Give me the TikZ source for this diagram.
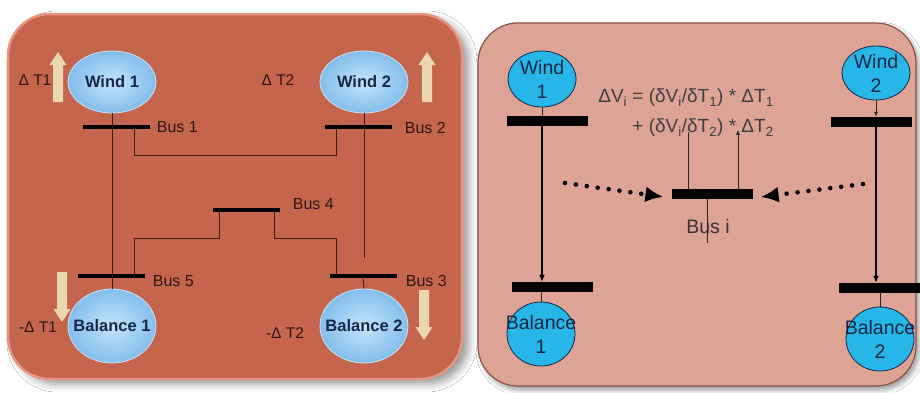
\documentclass[tikz,border=0pt]{standalone}
\usepackage{fontspec}
\setmainfont{Liberation Sans}
\usepackage{tikz}
\usetikzlibrary{arrows.meta,positioning,calc,shapes.geometric,shadows.blur}
\definecolor{panelred}{RGB}{198,101,77}
\definecolor{panelrim}{RGB}{228,150,126}
\definecolor{panelpink}{RGB}{221,164,149}
\definecolor{pinkrim}{RGB}{140,82,66}
\definecolor{skyin}{RGB}{196,228,250}
\definecolor{skyout}{RGB}{132,190,236}
\definecolor{cyanfill}{RGB}{38,182,232}
\definecolor{navy}{RGB}{22,38,70}
\definecolor{beige}{RGB}{236,214,176}
\definecolor{wirecol}{RGB}{55,28,20}
\definecolor{inkdark}{RGB}{45,22,18}
\tikzset{
  leftpanel/.style={draw=panelrim, line width=2.5pt, fill=panelred, rounded corners=42pt,
    blur shadow={shadow xshift=7pt, shadow yshift=-5pt, shadow blur radius=8pt}},
  rightpanel/.style={draw=pinkrim, line width=1.2pt, fill=panelpink, rounded corners=40pt,
    blur shadow={shadow xshift=3pt, shadow yshift=-4pt, shadow blur radius=5pt}},
  windel/.style={ellipse, draw=white!55!skyout, line width=0.8pt, inner color=skyin, outer color=skyout,
    minimum width=88pt, minimum height=62pt, inner sep=0pt},
  wlbl/.style={inner sep=0pt, text=navy, font=\fontsize{16.5}{18}\selectfont\bfseries},
  busbar/.style={rectangle, fill=black, minimum width=67pt, minimum height=4.5pt, inner sep=0pt},
  buslbl/.style={inner sep=0pt, text=inkdark, font=\fontsize{16}{17}\selectfont},
  dlbl/.style={inner sep=0pt, text=inkdark, font=\fontsize{15.5}{17}\selectfont},
  blkup/.pic={\fill[beige] (-5,25) -- (-5,-12) -- (-8.5,-12) -- (0,-25) -- (8.5,-12) -- (5,-12) -- (5,25) -- cycle;},
  wire/.style={draw=wirecol, line width=0.8pt},
  rnode/.style={ellipse, draw=navy, fill=cyanfill, line width=0.8pt, minimum width=68pt, minimum height=56pt,
    inner sep=0pt},
  rlbl/.style={inner sep=0pt, align=center, text=navy, font=\fontsize{19.5}{24}\selectfont},
  rbar/.style={rectangle, fill=black, minimum width=81pt, minimum height=10pt, inner sep=0pt},
  rwire/.style={draw=black!85, line width=0.7pt},
  fatarr/.style={draw=black, line width=2.2pt, -{Latex[length=7pt,width=6pt]}},
  dotarr/.style={draw=black, line width=4.6pt, dash pattern=on 0pt off 11pt, line cap=round,
    -{Latex[length=18pt,width=16pt]}, shorten >=8pt},
}
\begin{document}
\begin{tikzpicture}[x=1pt,y=-1pt]
  \useasboundingbox (0,0) rectangle (920,392);
  \fill[white] (0,0) rectangle (920,392);
  % the two panels
  \path[leftpanel] (8,14) rectangle (462,379);
  \path[rightpanel] (478,23) rectangle (916,386);

  % left: five bus network
  \node[windel] (w1) at (112,82) {};
  \node[windel] (w2) at (364,82) {};
  \node[windel, minimum height=74pt] (b1) at (112,326) {};
  \node[windel, minimum height=74pt] (b2) at (364,326) {};
  \node[wlbl] (lw1) at (w1) {Wind 1};
  \node[wlbl] (lw2) at (w2) {Wind 2};
  \node[wlbl] (lb1) at (b1) {Balance 1};
  \node[wlbl] (lb2) at (b2) {Balance 2};

  \node[busbar] (bus1) at (116,127) {};
  \node[busbar] (bus2) at (358,127) {};
  \node[busbar] (bus4) at (246,210) {};
  \node[busbar] (bus5) at (111,276) {};
  \node[busbar] (bus3) at (363,276) {};

  \node[buslbl, right=7pt of bus1] (lbus1) {Bus 1};
  \node[buslbl, right=13pt of bus2, yshift=-1pt] (lbus2) {Bus 2};
  \node[buslbl, right=13pt of bus4, yshift=6pt] (lbus4) {Bus 4};
  \node[buslbl, right=8pt of bus5, yshift=-5pt] (lbus5) {Bus 5};
  \node[buslbl, right=9pt of bus3, yshift=-5pt] (lbus3) {Bus 3};

  \node[dlbl] (dt1) at (35,80) {Δ T1};
  \node[dlbl] (dt2) at (278,80) {Δ T2};
  \node[dlbl] (mdt1) at (38,327) {-Δ T1};
  \node[dlbl] (mdt2) at (285,333) {-Δ T2};

  \pic at (58,77) {blkup};
  \pic at (427,77) {blkup};
  \pic[yscale=-1] at (62,297) {blkup};
  \pic[yscale=-1] at (424,315) {blkup};

  \coordinate (cut) at ([yshift=18pt]bus3.center);
  \draw[wire] (w1.south) -- (b1.north);
  \draw[wire] (w2.south) -- (w2.south |- cut);
  \draw[wire] (bus3.center) -- (b2.north);
  \draw[wire] ([xshift=18pt]bus1.center) -- ++(0,28) -| ([xshift=-22pt]bus2.center);
  \draw[wire] ([xshift=23pt]bus5.center) -- ++(0,-38) -| ([xshift=-27pt]bus4.center);
  \draw[wire] ([xshift=28pt]bus4.center) -- ++(0,28) -| ([xshift=-27pt]bus3.center);

  % right: sensitivity at bus i
  \node[rnode] (rw1) at (542,79) {};
  \node[rnode, minimum height=54pt] (rw2) at (876,73) {};
  \node[rnode, minimum height=64pt] (rb1) at (541,334) {};
  \node[rnode, minimum height=64pt] (rb2) at (880,339) {};
  \node[rlbl] (lrw1) at (rw1) {Wind\\1};
  \node[rlbl] (lrw2) at (rw2) {Wind\\2};
  \node[rlbl] (lrb1) at (rb1) {Balance\\1};
  \node[rlbl] (lrb2) at (rb2) {Balance\\2};

  \node[rbar] (rt1) at (547,121) {};
  \node[rbar] (rt2) at (871,122) {};
  \node[rbar] (rl1) at (552,287) {};
  \node[rbar] (rl2) at (879,288) {};
  \node[rbar] (busi) at (712,194) {};
  \node[inner sep=0pt, text=black!80, font=\fontsize{19.5}{21}\selectfont] (lbusi) at (708,227) {Bus i};

  \node[inner sep=0pt, align=right, text=black!75, font=\fontsize{19}{30}\selectfont] (eq) at (686,113)
    {ΔV\textsubscript{i} = (δV\textsubscript{i}/δT\textsubscript{1}) * ΔT\textsubscript{1}\\
     + (δV\textsubscript{i}/δT\textsubscript{2}) * ΔT\textsubscript{2}};

  \draw[rwire] (rw1.south) -- (rw1.south |- rt1.north);
  \draw[fatarr] (rt1.south -| rw1) -- (rl1.north -| rw1);
  \draw[rwire] (rl1.south -| rb1) -- (rb1.north);
  \draw[rwire, -{Latex[length=5pt,width=4pt]}] (rw2.south) -- (rw2.south |- rt2.north);
  \draw[fatarr] (rt2.south -| rw2) -- (rl2.north -| rw2);
  \draw[rwire] (rl2.south -| rb2) -- (rb2.north);

  \draw[rwire] ([xshift=-24pt]busi.north) -- ++(0,-57);
  \draw[rwire, -{Latex[length=5pt,width=4pt]}] ([xshift=26pt]busi.north) -- ++(0,-59);
  \draw[rwire] ([xshift=-5pt]busi.south) -- ++(0,44);

  \coordinate (dl) at (565,183);
  \coordinate (dr) at (863,184);
  \draw[dotarr] (dl) -- ([yshift=-4pt]busi.west);
  \draw[dotarr] (dr) -- ([yshift=-4pt]busi.east);
\end{tikzpicture}
\end{document}
